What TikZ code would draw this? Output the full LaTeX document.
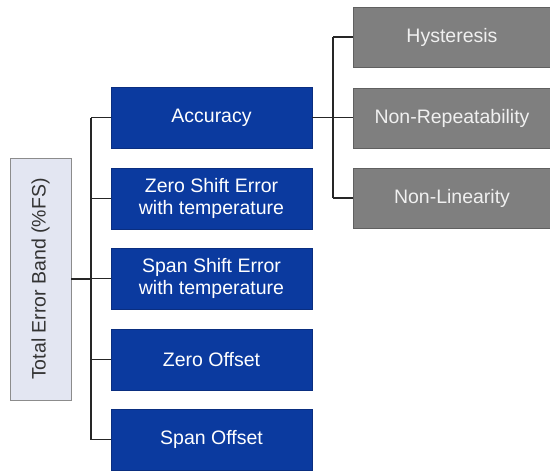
\documentclass[tikz,border=0pt]{standalone}
\usepackage{fontspec}
\setmainfont{Liberation Sans}
\usepackage{tikz}

\definecolor{errblue}{HTML}{0B3A9F}
\definecolor{errblueline}{HTML}{0A2E80}
\definecolor{errgray}{HTML}{7F7F7F}
\definecolor{errgrayline}{HTML}{606060}
\definecolor{errpale}{HTML}{E3E6F2}

\tikzset{
  bluebox/.style={draw=errblueline, fill=errblue, text=white, align=center,
    minimum width=201, minimum height=61, inner sep=0pt,
    font=\fontsize{19.5}{22}\selectfont},
  graybox/.style={draw=errgrayline, fill=errgray, text=white!94!black, align=center,
    minimum width=198, minimum height=60, inner sep=0pt,
    font=\fontsize{19.5}{22}\selectfont},
  rootbox/.style={draw=black!45, fill=errpale, text=black!80,
    minimum width=61, minimum height=242, inner sep=0pt,
    font=\fontsize{19.5}{22}\selectfont},
  link/.style={draw=black!85, line width=1.4pt}
}

\begin{document}
\begin{tikzpicture}[x=1pt, y=-1pt]
      \useasboundingbox (0,0) rectangle (550,472);
      \node[rootbox] (total) at (40.5,279) {\rotatebox{90}{Total Error Band (\%FS)}};
      \node[bluebox] (acc) at (211.5,117.5) {Accuracy};
      \node[bluebox] (zse) at (211.5,198.5) {Zero Shift Error\\with temperature};
      \node[bluebox] (sse) at (211.5,278.5) {Span Shift Error\\with temperature};
      \node[bluebox] (zof) at (211.5,359.5) {Zero Offset};
      \node[bluebox] (spo) at (211.5,439.5) {Span Offset};
      \node[graybox] (hys) at (452,37) {Hysteresis};
      \node[graybox] (nrp) at (452,118) {Non-Repeatability};
      \node[graybox] (nlin) at (452,198) {Non-Linearity};
      \coordinate (trunk) at (91,0);
      \coordinate (branch) at (333,0);
      \draw[link] (total.east) -- (total.east -| trunk);
      \draw[link] (trunk |- acc.west) -- (trunk |- spo.west);
      \foreach \n in {acc,zse,sse,zof,spo}
        \draw[link] (trunk |- \n.west) -- (\n.west);
      \draw[link] (acc.east) -- (acc.east -| nrp.west);
      \draw[link] (branch |- hys.west) -- (branch |- nlin.west);
      \foreach \n in {hys,nlin}
        \draw[link] (branch |- \n.west) -- (\n.west);
  \end{tikzpicture}
\end{document}
